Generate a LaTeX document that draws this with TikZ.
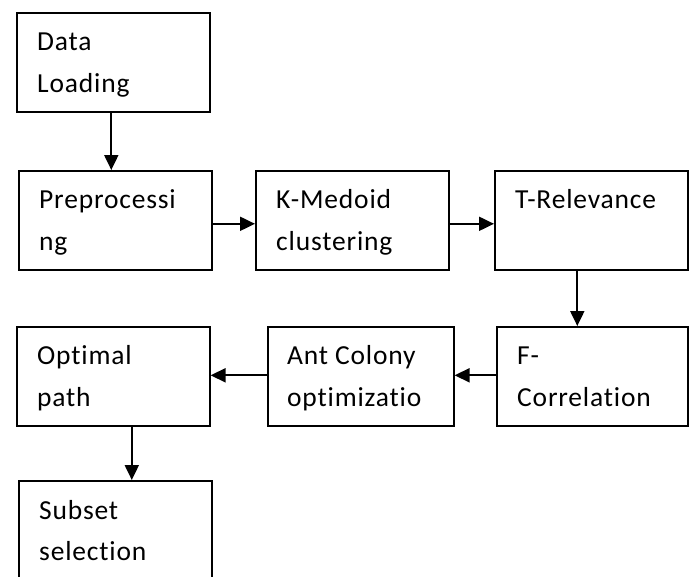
\documentclass[tikz,border=0pt]{standalone}
\usepackage{fontspec}
\setmainfont{Carlito}[LetterSpace=3,Ligatures={NoCommon,NoRequired,NoContextual}]
\usetikzlibrary{arrows.meta,calc}
\tikzset{
  boxnode/.style={draw=black, line width=1.6pt, rectangle, inner sep=0pt, anchor=north west, minimum height=99pt},
  txt/.style={anchor=base west, inner sep=0pt, font=\fontsize{27.5}{32}\selectfont},
  arr/.style={line width=2pt, -{Triangle[width=14pt,length=15pt]}}
}
\begin{document}
\begin{tikzpicture}[x=1pt,y=-1pt]
\useasboundingbox (0,0) rectangle (690,576);
% boxes
\node[boxnode, minimum width=193pt] (b1) at (16,12) {};
\node[boxnode, minimum width=193pt] (b2) at (18,170) {};
\node[boxnode, minimum width=193pt] (b3) at (255,170) {};
\node[boxnode, minimum width=193pt] (b4) at (494,170) {};
\node[boxnode, minimum width=191pt] (b5) at (496,326) {};
\node[boxnode, minimum width=186pt] (b6) at (267,326) {};
\node[boxnode, minimum width=193pt] (b7) at (16,326) {};
\node[boxnode, minimum width=193pt] (b8) at (18,480) {};
% texts
\node[txt] (t1a) at ($(b1.north west)+(21,38)$) {Data};
\node[txt] (t1b) at ($(b1.north west)+(21,80)$) {Loading};
\node[txt] (t2a) at ($(b2.north west)+(21,38)$) {Preprocessi};
\node[txt] (t2b) at ($(b2.north west)+(21,80)$) {ng};
\node[txt] (t3a) at ($(b3.north west)+(21,38)$) {K-Medoid};
\node[txt] (t3b) at ($(b3.north west)+(21,80)$) {clustering};
\node[txt] (t4a) at ($(b4.north west)+(21,38)$) {T-Relevance};
\node[txt] (t5a) at ($(b5.north west)+(21,38)$) {F-};
\node[txt] (t5b) at ($(b5.north west)+(21,80)$) {Correlation};
\node[txt] (t6a) at ($(b6.north west)+(20,38)$) {Ant Colony};
\node[txt] (t6b) at ($(b6.north west)+(20,80)$) {optimizatio};
\node[txt] (t7a) at ($(b7.north west)+(21,38)$) {Optimal};
\node[txt] (t7b) at ($(b7.north west)+(21,80)$) {path};
\node[txt] (t8a) at ($(b8.north west)+(21,39)$) {Subset};
\node[txt] (t8b) at ($(b8.north west)+(21,80)$) {selection};
% connectors
\draw[arr] ([xshift=-2pt]b1.south) -- ([xshift=-2pt]b1.south |- b2.north);
\draw[arr] ([yshift=-3.5pt]b2.east) -- ([yshift=-3.5pt]b3.west);
\draw[arr] ([yshift=-3.5pt]b3.east) -- ([yshift=-3.5pt]b4.west);
\draw[arr] ([xshift=-14pt]b4.south) -- ([xshift=-14pt]b4.south |- b5.north);
\draw[arr] ([yshift=1pt]b5.west) -- ([yshift=1pt]b6.east);
\draw[arr] ([yshift=1pt]b6.west) -- ([yshift=1pt]b7.east);
\draw[arr] ([xshift=18.5pt]b7.south) -- ([xshift=18.5pt]b7.south |- b8.north);
\end{tikzpicture}
\end{document}
